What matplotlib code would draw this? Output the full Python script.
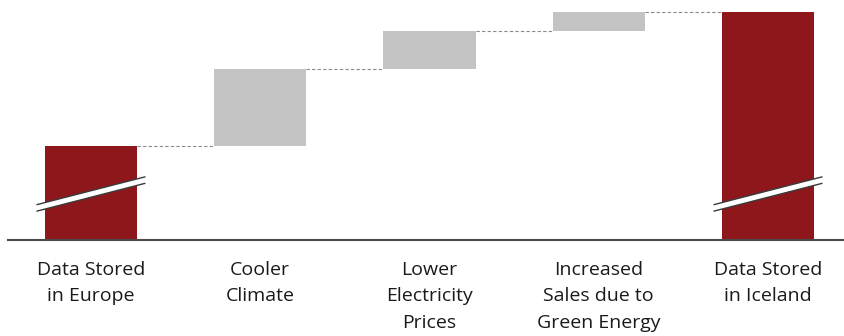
import numpy as np
import matplotlib.pyplot as plt
from matplotlib.patches import Polygon

# data (arbitrary units)
labels = ["Data Stored\nin Europe", "Cooler\nClimate", "Lower\nElectricity\nPrices",
          "Increased\nSales due to\nGreen Energy", "Data Stored\nin Iceland"]
start_value = 94
increments = [77, 38, 19]
break_level = 46  # where the axis-break mark sits on the total bars

red = "#8E171C"
grey = "#C3C3C3"

plt.rcParams['font.family'] = ['Open Sans', 'DejaVu Sans']

end_value = start_value + sum(increments)
bottoms = [0]
heights = [start_value]
level = start_value
for inc in increments:
    bottoms.append(level)
    heights.append(inc)
    level += inc
bottoms.append(0)
heights.append(end_value)
colors = [red] + [grey] * len(increments) + [red]

x = np.arange(len(labels))
width = 0.545

fig = plt.figure(figsize=(8.44, 3.36), dpi=100)
ax = fig.add_axes([8 / 844, 96 / 336, 836 / 844, 240 / 336])
ax.bar(x, heights, width, bottom=bottoms, color=colors, zorder=2)

# dashed connectors between bars
tops = [b + h for b, h in zip(bottoms, heights)]
for i in range(len(x) - 1):
    lvl = tops[i]
    ax.plot([x[i] + width / 2, x[i + 1] - width / 2], [lvl, lvl],
            color="#8a8a8a", lw=0.8, ls=(0, (3, 2)), zorder=1)

# axis-break marks on the two total bars
hw = 0.322
rise = 14
thick = 6.5
for i in (0, len(x) - 1):
    cx = x[i]
    lo = [(cx - hw, break_level - rise - thick / 2), (cx + hw, break_level + rise - thick / 2)]
    hi = [(cx - hw, break_level - rise + thick / 2), (cx + hw, break_level + rise + thick / 2)]
    ax.add_patch(Polygon(lo + hi[::-1], closed=True, facecolor="white",
                         edgecolor="none", zorder=3))
    for seg in (lo, hi):
        ax.plot([p[0] for p in seg], [p[1] for p in seg], color="#3a3a3a",
                lw=1.0, zorder=4, solid_capstyle="butt")

ax.set_xlim(-0.49, 4.449)
ax.set_ylim(0, 240)
for s in ("top", "right", "left"):
    ax.spines[s].set_visible(False)
ax.spines["bottom"].set_color("#4a4a4a")
ax.spines["bottom"].set_linewidth(1.5)
ax.set_yticks([])
ax.set_xticks(x)
ax.set_xticklabels(labels, fontsize=14, color="#1a1a1a", linespacing=1.6,
                   va="top")
ax.tick_params(axis="x", length=0, pad=15)

fig.savefig("out.png", dpi=100)
